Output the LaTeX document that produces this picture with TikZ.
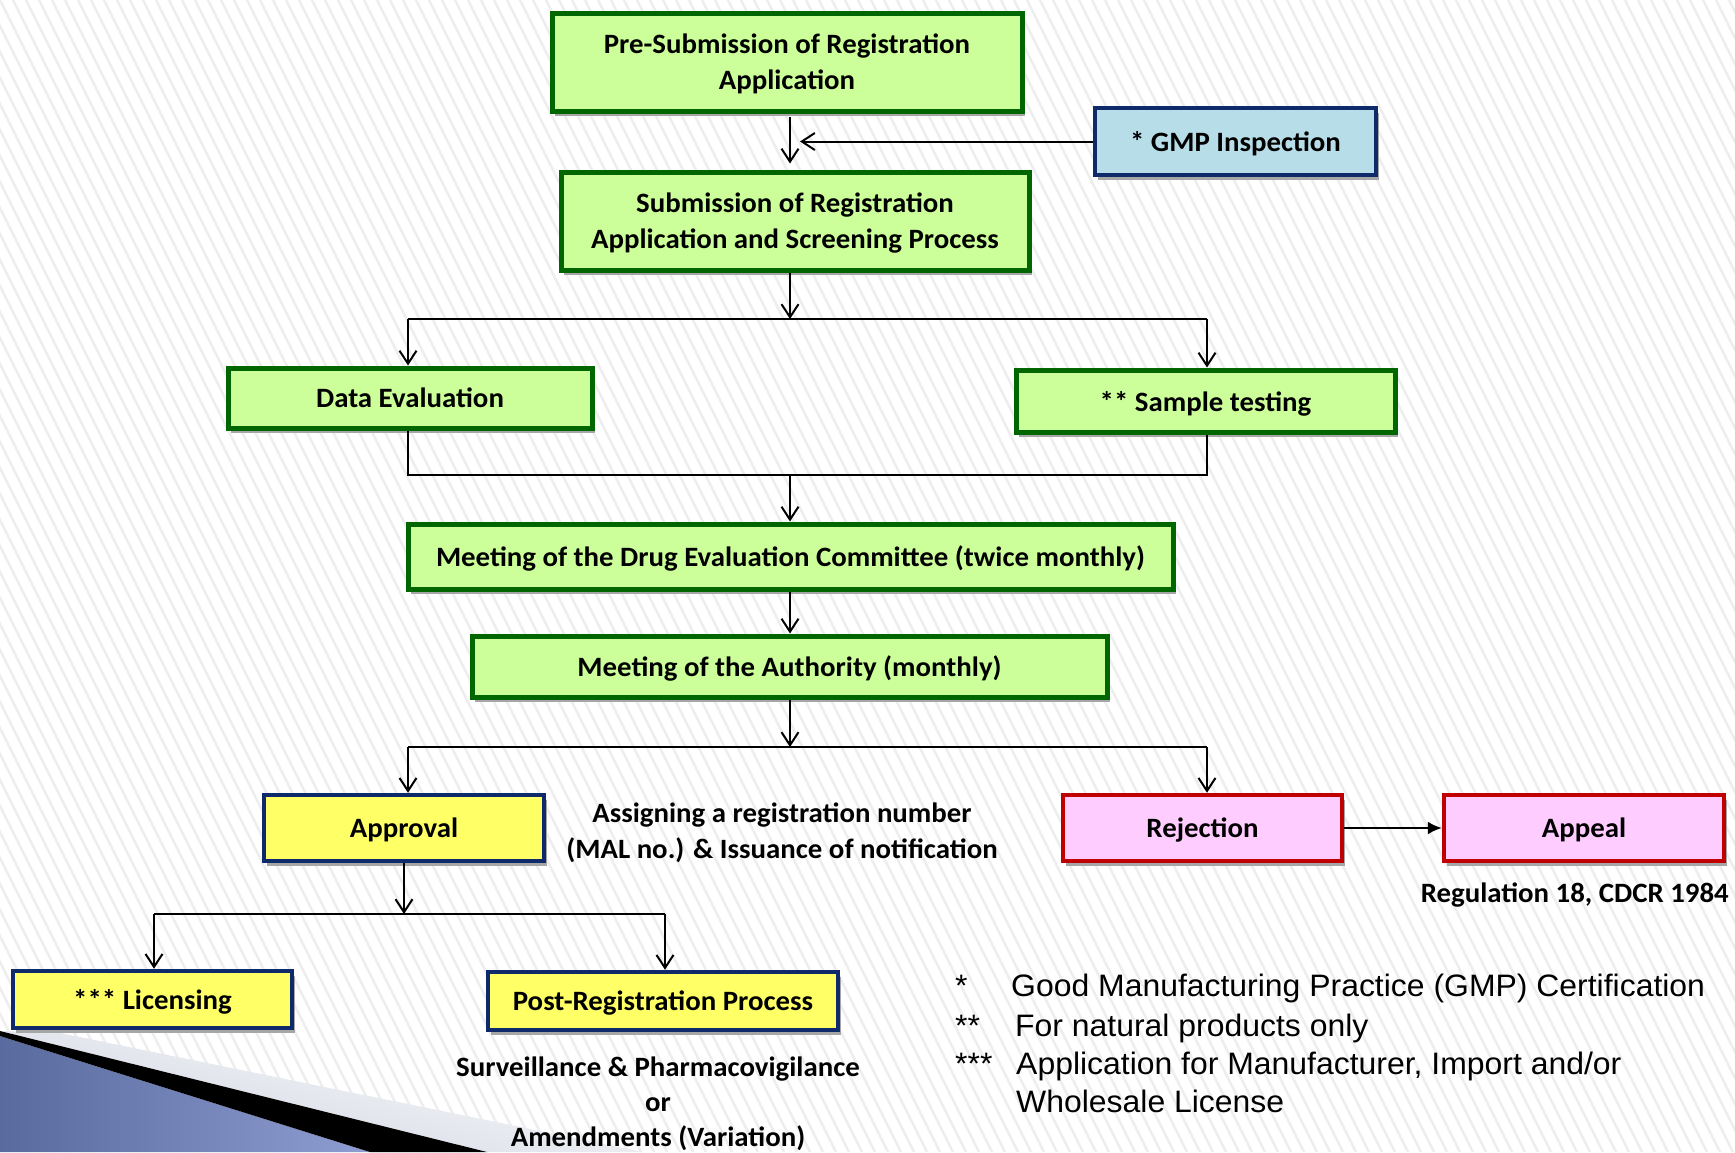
\documentclass[tikz,border=0pt]{standalone}
\usepackage{fontspec}
\setmainfont{Carlito}[FakeStretch=1.03]
\newfontfamily\legendfont{Liberation Sans}[FakeStretch=1.03]
\usetikzlibrary{arrows.meta,shadows}
\definecolor{gfill}{HTML}{CCFF99}
\definecolor{gdraw}{HTML}{006600}
\definecolor{bfill}{HTML}{B7DEE8}
\definecolor{navy}{HTML}{0F2A6B}
\definecolor{yfill}{HTML}{FFFF66}
\definecolor{pfill}{HTML}{FFCCFF}
\definecolor{rdraw}{HTML}{C00000}
\definecolor{stripec}{HTML}{EEEEEE}
\definecolor{shadowc}{HTML}{A6A6A6}
\definecolor{decdark}{HTML}{586A9E}
\definecolor{declight}{HTML}{8E9DD2}
\definecolor{decgray}{HTML}{CDD2DF}
\begin{document}
\begin{tikzpicture}[x=1pt,y=-1pt,
  box/.style={rectangle, inner sep=0pt, align=center, text depth=0pt,
    font=\bfseries\fontsize{28}{36}\selectfont,
    drop shadow={shadow xshift=3pt,shadow yshift=-5pt,fill=shadowc,opacity=1}},
  greenbox/.style={box, fill=gfill, draw=gdraw, line width=5pt},
  bluebox/.style={box, fill=bfill, draw=navy, line width=4.5pt},
  yellowbox/.style={box, fill=yfill, draw=navy, line width=4.5pt},
  pinkbox/.style={box, fill=pfill, draw=rdraw, line width=4.5pt},
  txt/.style={inner sep=0pt, align=center, font=\bfseries\fontsize{28}{36}\selectfont},
  leg/.style={inner sep=0pt, anchor=base west, font=\legendfont\fontsize{31}{38}\selectfont},
  ln/.style={line width=2pt, draw=black},
  arr/.style={ln, -{Straight Barb[length=13pt,width=17pt,line width=2pt]}},
  tri/.style={ln, -{Latex[length=14pt,width=13pt]}}
]
\useasboundingbox (0,0) rectangle (1735,1152);
% background
\fill[white] (0,0) rectangle (1735,1152);
\begin{scope}
\clip (0,0) rectangle (1735,1152);
\foreach \i in {-45,...,134}{
  \draw[stripec, line width=2.5pt] (\i*13,0) -- (\i*13+576,1152);
}
% corner decoration
\shade[top color=white, bottom color=decgray, shading angle=-14] (0,1031) -- (60,1033) -- (643,1152) -- (487,1152) -- cycle;
\shade[left color=decdark, right color=declight] (0,1036) -- (370,1152) -- (0,1152) -- cycle;
\fill[black] (0,1031) -- (487,1152) -- (370,1152) -- (0,1036) -- cycle;
\end{scope}

% boxes
\node[greenbox, minimum width=470pt, minimum height=98pt] (pre) at (787,62) {Pre-Submission of Registration\\Application};
\node[bluebox, minimum width=281pt, minimum height=67pt] (gmp) at (1235.5,141.5) {* GMP Inspection};
\node[greenbox, minimum width=468pt, minimum height=98pt] (sub) at (795,221) {Submission of Registration\\Application and Screening Process};
\node[greenbox, minimum width=364pt, minimum height=60pt] (data) at (410,398) {Data Evaluation};
\node[greenbox, minimum width=379pt, minimum height=62pt] (samp) at (1205.5,401) {** Sample testing};
\node[greenbox, minimum width=765pt, minimum height=65pt] (dec) at (790.5,556.5) {Meeting of the Drug Evaluation Committee (twice monthly)};
\node[greenbox, minimum width=635pt, minimum height=61pt] (auth) at (789.5,666.5) {Meeting of the Authority (monthly)};
\node[yellowbox, minimum width=280pt, minimum height=66pt] (appr) at (404,828) {Approval};
\node[pinkbox, minimum width=279pt, minimum height=66pt] (rej) at (1202.5,828) {Rejection};
\node[pinkbox, minimum width=280pt, minimum height=66pt] (appeal) at (1584,828) {Appeal};
\node[yellowbox, minimum width=279pt, minimum height=57pt] (lic) at (152.5,999.5) {*** Licensing};
\node[yellowbox, minimum width=350pt, minimum height=58pt] (post) at (663,1001) {Post-Registration Process};

% free texts
\node[txt] (assign) at (782,833) {Assigning a registration number\\(MAL no.) \& Issuance of notification};
\node[txt, anchor=east] (reg) at (1729,895) {Regulation 18, CDCR 1984};
\node[txt, font=\bfseries\fontsize{28}{35}\selectfont] (surv) at (658,1104) {Surveillance \& Pharmacovigilance\\or\\Amendments (Variation)};

% legend
\node[leg] (s1) at (955,996) {*};
\node[leg] (l1) at (1011,996) {Good Manufacturing Practice (GMP) Certification};
\node[leg] (s2) at (955,1036) {**};
\node[leg] (l2) at (1015,1036) {For natural products only};
\node[leg] (s3) at (955,1074) {***};
\node[leg] (l3) at (1016,1074) {Application for Manufacturer, Import and/or};
\node[leg] (l4) at (1016,1112) {Wholesale License};

% bus coordinates
\coordinate (b1) at (790,319);
\coordinate (b1l) at (408,319);
\coordinate (b1r) at (1207,319);
\coordinate (b2) at (790,475);
\coordinate (b2l) at (408,475);
\coordinate (b2r) at (1207,475);
\coordinate (b3) at (790,747);
\coordinate (b3l) at (408,747);
\coordinate (b3r) at (1207,747);
\coordinate (b4) at (404,914);
\coordinate (b4l) at (154,914);
\coordinate (b4r) at (665,914);

% connectors
\draw[arr, shorten <=3pt, shorten >=6pt] (pre.south -| b1) -- (sub.north -| b1);
\draw[arr, shorten >=10pt] (gmp.west) -- (gmp.west -| b1);
\draw[arr] (sub.south -| b1) -- (b1);
\draw[ln] (b1l) -- (b1r);
\draw[arr] (b1l) -- (data.north -| b1l);
\draw[arr] (b1r) -- (samp.north -| b1r);
\draw[ln] (data.south -| b2l) -- (b2l) -- (b2r) -- (samp.south -| b2r);
\draw[arr] (b2) -- (dec.north -| b2);
\draw[arr] (dec.south -| b2) -- (auth.north -| b2);
\draw[arr] (auth.south -| b3) -- (b3);
\draw[ln] (b3l) -- (b3r);
\draw[arr] (b3l) -- (appr.north -| b3l);
\draw[arr] (b3r) -- (rej.north -| b3r);
\draw[tri] (rej.east) -- (appeal.west);
\draw[arr] (appr.south -| b4) -- (b4);
\draw[ln] (b4l) -- (b4r);
\draw[arr] (b4l) -- (lic.north -| b4l);
\draw[arr] (b4r) -- (post.north -| b4r);
\end{tikzpicture}
\end{document}
